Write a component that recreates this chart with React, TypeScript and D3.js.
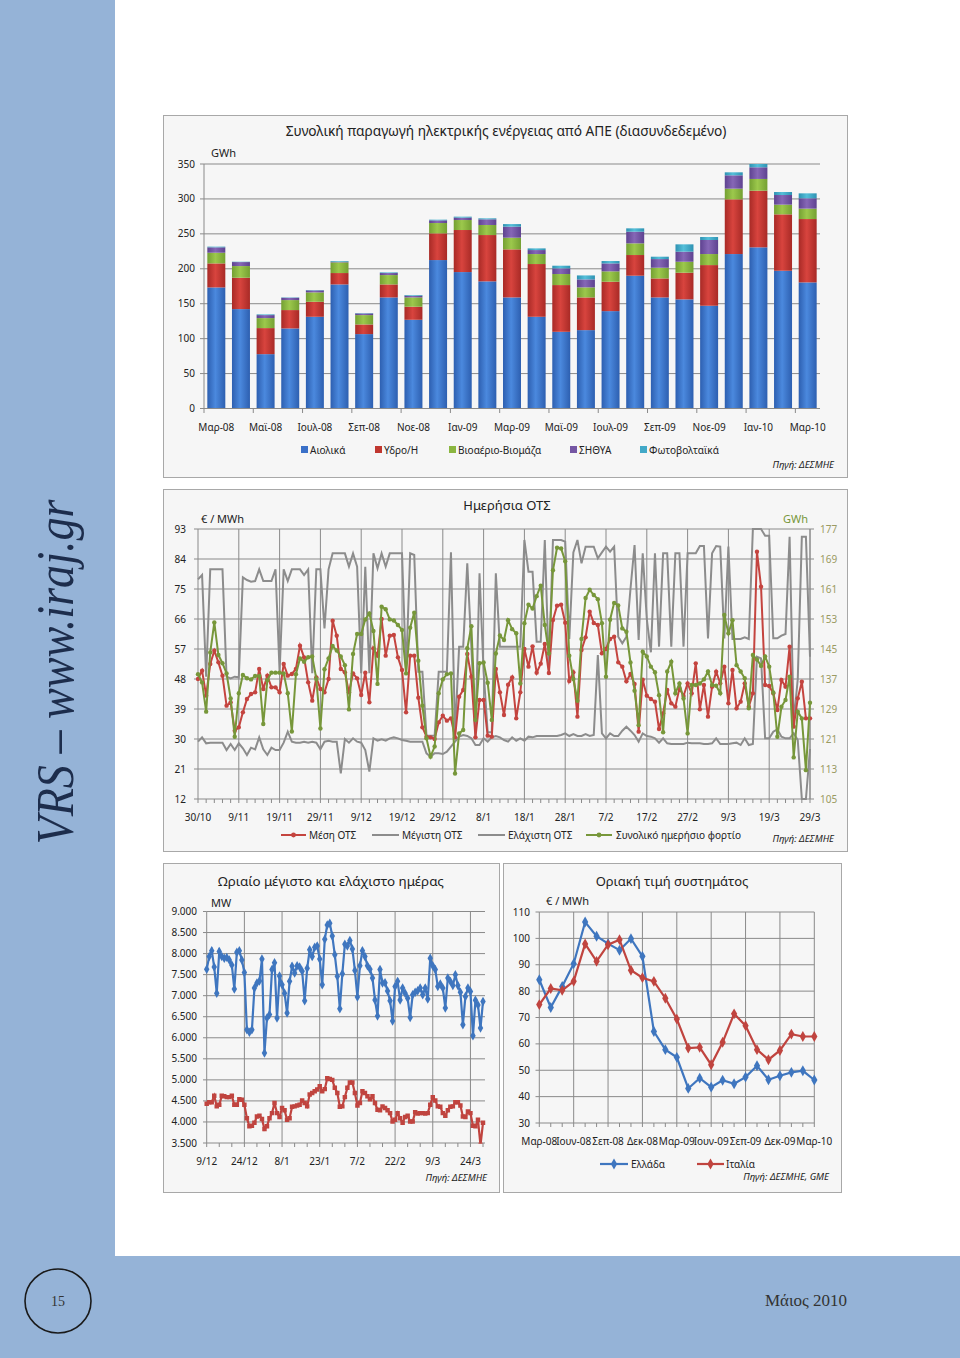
import React from "react";
import * as d3 from "d3";

const FONT = "'Noto Sans', 'DejaVu Sans', sans-serif";

// ---------------- Chart 1: RES production (GWh) ----------------
const monthLabels = ["Μαρ-08","Απρ-08","Μαϊ-08","Ιουν-08","Ιουλ-08","Αυγ-08","Σεπ-08","Οκτ-08","Νοε-08","Δεκ-08","Ιαν-09","Φεβ-09","Μαρ-09","Απρ-09","Μαϊ-09","Ιουν-09","Ιουλ-09","Αυγ-09","Σεπ-09","Οκτ-09","Νοε-09","Δεκ-09","Ιαν-10","Φεβ-10","Μαρ-10"];
const windGWh = [173.3,142.3,77.8,114.6,131.3,177.6,106.5,159,127,212.5,195.3,182,159,131.3,109.8,112.2,139.4,190.1,159,156.2,147.1,221.1,230.7,197.2,180.5];
const hydroGWh = [34.4,44.9,37.3,26.3,21.5,16.3,13.8,18.6,18.7,38.2,60.2,66.3,68.8,75.5,66.9,46.8,42.1,29.6,27.2,38.2,58.2,78.3,81.1,80.7,90.7];
const bioGWh = [15.3,16.7,14.3,14.3,13.4,15.3,13.4,13.4,13.3,14.8,14.3,14.4,16.7,14.3,15.8,14.4,14.8,16.7,15.3,15.7,15.8,15.3,16.8,13.9,14.9];
const chpGWh = [7.7,5.7,4.3,3.3,2.9,0.9,2.4,2.9,2.4,3.8,3.4,8.1,15.8,5.7,8.1,11.4,11.4,16.7,12.4,14.4,20.1,19.1,16.7,13.8,14.8];
const pvGWh = [1,0.5,1,0.5,0.5,1,0.5,0.9,1,1,1.4,1.4,3.7,2.4,3.8,5.7,3.4,4.8,3.4,10.5,4.3,4.3,4.7,4.3,7.1];
const resNames = ["Αιολικά","Υδρο/Η","Βιοαέριο-Βιομάζα","ΣΗΘΥΑ","Φωτοβολταϊκά"];
const resTicks = [0,50,100,150,200,250,300,350];

// ---------------- Chart 2: daily SMP ----------------
const otsDateTicks = ["30/10","9/11","19/11","29/11","9/12","19/12","29/12","8/1","18/1","28/1","7/2","17/2","27/2","9/3","19/3","29/3"];
const otsLeftTicks = [12,21,30,39,48,57,66,75,84,93];
const otsRightTicks = [105,113,121,129,137,145,153,161,169,177];
const otsMean = [48,50.5,43,52.5,56.5,53,49,40,41,32.5,
 33.5,38,42,43.5,44,51,45,49,45.5,45.5,
 44,52.5,49,49.5,51,58,54.5,47,41.5,48.5,
 45,44,48,65.5,61,51,50,44,49.7,48.2,
 43.2,49.9,41,57.2,55,66,55,61,61.2,54.5,
 50.7,38,55,55,42.4,33.5,30.7,30.5,30,35,
 37,35.5,36.2,30.5,42.7,44.7,55.5,48.7,30.5,41.7,
 41.7,31,30.7,51,44,37.2,46.3,48.5,36.2,44,
 57,51.7,57.8,49.9,52.6,58.5,49.8,65.7,70,70.3,
 64.9,47.4,50,36.7,56.7,60.5,68.2,64.8,64.2,55.7,
 57,60,60.7,53,51.7,47.3,49.5,46.5,32.2,47.8,
 43,42,41.2,33,37.7,44.7,40.7,39.7,45.2,42.9,
 46.7,43.7,52.7,38.9,46.2,36.7,45.7,50.2,46.7,51.7,
 40.7,50.7,39.2,41.2,46.7,39.7,43.7,86.2,75.7,46.2,
 45.9,43.7,38.7,47.7,45.7,57.7,33.7,42.2,47.2,36.2,
 36.2];
const otsMax = [77.9,79.2,48.7,80.9,80.9,80.9,80.9,48.7,48.2,48.7,
 48.5,78.5,77.7,77.2,77.4,80.9,77.4,77.4,77.4,80.9,
 50.2,80.9,77.4,80.9,80.9,80.9,79.2,80.9,49.7,80.9,
 80.9,63.2,80.9,85.7,85.7,85.7,85.7,81.7,85.7,81.7,
 49.7,81.7,49.7,85.7,81.2,85.7,81.7,85.7,85.7,85.7,
 85.7,50.2,85.7,85.2,50.2,50.2,31,31,31,50.2,
 50.2,50.2,86,31.7,57.7,57.7,82.7,57.7,31,79.7,
 50.2,32,32,79.7,57.7,57.7,57.7,57.7,57.7,57.7,
 89.7,80.2,80.2,59.2,59.2,89.7,50.7,89.7,89.7,89.7,
 89.2,60,86,89.7,82.7,87.7,87.7,87.7,84.2,86,
 87.7,86.2,87.7,60.7,58.7,60.7,75,88.2,59.7,85.7,
 66,56,85.7,57.7,85.7,85.7,57.7,85.7,85.7,57.7,
 85.7,85.7,85.7,87.9,87.9,60.2,85.7,87.9,87.7,60.2,
 87.7,60,60,60,60.5,60,93,93,93,91,
 91,60.2,60.2,61,61.5,90.7,35,48,90.7,90.7,
 54.7];
const otsMin = [29.2,30.5,28.7,28.9,28.9,28.9,28.9,26.7,28.5,26.7,
 28.7,27.2,25.2,27.4,26.9,30.5,26.9,25.2,27.4,26.7,
 26.7,28.9,32.2,29.2,28.9,28.9,29.2,28.9,29.2,28.9,
 26.9,29.2,29.5,29.2,29.2,19.7,30,28.9,30.2,29.2,
 28.9,26.7,20.2,30.2,29.5,29.9,29.5,30.2,30.5,30.2,
 29.7,29.5,29.2,29.2,29.2,29.2,25.7,24.7,25.7,25.7,
 25.5,26.2,27.7,29.2,30.7,31.2,30.9,30.2,28.2,28.2,
 30.2,29.2,30.5,30.9,30.5,29.7,29.2,30.5,29.5,30.2,
 29.5,30.7,30.5,30.9,30.9,30.9,30.9,30.9,30.9,31.2,
 31.7,30.9,31.5,30.9,30.9,31.5,30.9,31.2,55.2,31.7,
 30.2,31.7,30.9,30.9,32.5,33.7,32.5,31.2,29.2,31.7,
 30.9,30.7,30.2,28.9,30.2,28.7,28.5,28.5,28.5,28.5,
 28.9,28.7,28.7,28.7,28.5,28.5,28.7,30.2,28.5,28.5,
 28.5,28.7,28.9,28.2,30.2,28.2,28.5,54.7,54.2,30.2,
 30.2,32.2,32.9,30.7,30.2,30.2,31.7,29.7,12,12,
 27];
const dailyLoad = [138.3,136.1,128.3,144.1,152.1,143.4,141.2,138.5,131.8,121.6,
 133.2,138.1,137.2,136.9,137.8,137.8,125.0,136.7,138.7,138.7,
 138.7,138.5,133.2,123.0,138.3,142.5,141.6,142.8,143.0,137.0,
 123.8,139.6,142.5,145.8,144.6,143.0,140.7,128.9,143.7,149.0,
 149.0,152.9,154.5,149.8,135.7,156.3,155.6,152.9,152.6,151.4,
 150.1,138.5,150.7,154.7,141.9,129.9,121.2,116.3,119.0,133.2,
 136.9,138.3,138.5,111.8,122.5,123.4,145.2,151.1,126.1,141.2,
 141.4,136.0,126.1,143.8,148.6,147.4,152.7,150.3,149.2,135.8,
 151.9,156.8,155.8,159.1,161.9,151.4,143.8,166.0,172.0,171.8,
 168.4,143.2,137.0,131.2,147.7,158.6,160.8,159.4,158.3,151.9,
 137.6,152.8,157.3,156.6,150.5,149.6,141.4,133.9,124.7,144.3,
 143.0,140.3,138.8,132.7,122.8,139.0,141.6,133.2,135.8,131.8,
 122.5,135.4,135.4,135.8,136.9,139.0,135.4,135.2,133.2,154.1,
 149.2,152.7,140.7,139.0,137.2,129.2,143.4,142.2,140.5,143.0,
 140.3,133.4,121.6,129.6,131.4,137.6,116.1,128.3,126.5,112.7,
 130.7];

// ---------------- Chart 3: hourly max / min load (MW) ----------------
const loadDateTicks = ["9/12","24/12","8/1","23/1","7/2","22/2","9/3","24/3"];
const loadTicks = [3500,4000,4500,5000,5500,6000,6500,7000,7500,8000,8500,9000];
const loadMax = [7630,7930,8070,7680,7060,8050,7930,7890,7910,7850,
 7730,7160,8030,8070,7850,7550,6190,6130,6190,7180,
 7300,7350,7870,5640,6470,6550,7620,7780,6470,7470,
 7260,7060,6590,7340,7700,7540,7710,7680,7580,6880,
 7650,8090,7930,8150,8180,7870,7260,8340,8680,8720,
 8420,7970,7460,6690,7520,8220,8180,8310,8110,7600,
 6970,7710,8070,7930,7710,7630,7420,6900,6520,7620,
 7300,7310,7110,6880,6400,7220,7340,6900,7180,7060,
 6940,6480,7020,7080,7120,7180,7020,7180,6920,7890,
 7710,7620,7220,7280,7180,6710,7420,7340,7240,7500,
 7240,7080,6310,6980,7180,7100,6050,6890,6780,6230,
 6860];
const loadMin = [4430,4470,4470,4620,4370,4410,4620,4610,4590,4590,
 4620,4410,4410,4540,4530,4410,4090,3900,3910,3980,
 4130,4150,4070,3830,3900,4090,4210,4450,4210,4120,
 4330,4280,4050,4090,4360,4370,4390,4410,4510,4450,
 4370,4650,4690,4730,4770,4850,4730,4780,5040,5020,
 5000,4810,4690,4360,4370,4590,4810,4940,4940,4690,
 4390,4450,4730,4690,4610,4540,4610,4450,4290,4280,
 4370,4330,4280,4210,4010,4050,4210,4090,3980,4120,
 4150,4010,4010,4230,4200,4210,4210,4200,4210,4410,
 4590,4510,4370,4360,4210,4150,4280,4360,4370,4470,
 4470,4390,4130,4120,4250,4210,3910,3900,4050,3450,
 3980];

// ---------------- Chart 4: SMP Greece vs Italy ----------------
const priceMonthTicks = ["Μαρ-08","Ιουν-08","Σεπ-08","Δεκ-08","Μαρ-09","Ιουν-09","Σεπ-09","Δεκ-09","Μαρ-10"];
const priceTicks = [30,40,50,60,70,80,90,100,110];
const greecePrice = [84.3,73.8,81.8,90.4,106.2,100.8,98,95.5,99.9,93.2,64.7,57.8,54.9,43.1,47,43.6,46.2,44.9,47.4,51.7,46.4,47.9,49.2,49.8,46.3];
const italyPrice = [74.9,81,80.3,83.7,97.9,91.3,97.6,99.5,87.9,85.1,83.7,77.3,69.4,58.4,58.7,52.1,60.6,71.4,66.9,57.8,54,57.5,63.7,62.8,62.8];

const GRID = "#8a8a8a";
const BOXFILL = "#f6f6f6";
const BOXSTROKE = "#a8a8a8";
const TXT = "#222";

const resColors = [
  { dark: "#2d5fb0", light: "#4b89de", mid: "#3a70c8" },
  { dark: "#a82a26", light: "#d8443e", mid: "#c0372f" },
  { dark: "#74a032", light: "#9cc84c", mid: "#8bb640" },
  { dark: "#5e4290", light: "#8667b6", mid: "#7556a3" },
  { dark: "#2e92b2", light: "#55bfd9", mid: "#42a9c8" },
];

function fmtMW(v: number) {
  const th = Math.floor(v / 1000);
  const r = v % 1000;
  return `${th}.${String(r).padStart(3, "0")}`;
}

function TopChart() {
  const keys = ["wind", "hydro", "bio", "chp", "pv"];
  const rows = monthLabels.map((m, i) => ({
    month: m, wind: windGWh[i], hydro: hydroGWh[i], bio: bioGWh[i], chp: chpGWh[i], pv: pvGWh[i],
  }));
  const series = d3.stack<any>().keys(keys)(rows);
  const x = d3.scaleBand<string>().domain(monthLabels).range([204, 820]).paddingInner(0.27).paddingOuter(0.135);
  const y = d3.scaleLinear().domain([0, 350]).range([408.5, 164]);
  const step = x.step();
  const legendX = [301, 375, 449, 570, 640];
  return (
    <g>
      <rect x={163.5} y={115.5} width={684} height={362} fill={BOXFILL} stroke={BOXSTROKE} />
      <text x={506} y={136} textAnchor="middle" fontSize={13.7} fill={TXT}>
        Συνολική παραγωγή ηλεκτρικής ενέργειας από ΑΠΕ (διασυνδεδεμένο)
      </text>
      <text x={211} y={157} fontSize={11} fill={TXT}>GWh</text>
      {resTicks.map((t) => (
        <g key={t}>
          {t > 0 && <line x1={204} x2={820} y1={y(t)} y2={y(t)} stroke={GRID} strokeWidth={1} />}
          <line x1={200} x2={204} y1={y(t)} y2={y(t)} stroke={GRID} />
          <text x={195} y={y(t)} dy="0.35em" textAnchor="end" fontSize={10} fill={TXT}>{t}</text>
        </g>
      ))}
      {series.map((s, si) => (
        <g key={s.key} fill={`url(#rg${si})`}>
          {s.map((d: any, i: number) => (
            <rect key={i} x={x(monthLabels[i])} width={x.bandwidth()} y={y(d[1])} height={Math.max(0, y(d[0]) - y(d[1]))} />
          ))}
        </g>
      ))}
      <line x1={204} x2={204} y1={164} y2={408.5} stroke={GRID} />
      <line x1={204} x2={820} y1={408.5} y2={408.5} stroke={GRID} />
      {d3.range(0, 26, 2).map((k) => (
        <line key={k} x1={204 + k * step} x2={204 + k * step} y1={408.5} y2={413} stroke={GRID} />
      ))}
      {monthLabels.map((m, i) => i % 2 === 0 && (
        <text key={m} x={(x(m) as number) + x.bandwidth() / 2} y={431} textAnchor="middle" fontSize={10} fill={TXT}>{m}</text>
      ))}
      {resNames.map((n, i) => (
        <g key={n}>
          <rect x={legendX[i]} y={446} width={7} height={7} fill={resColors[i].mid} />
          <text x={legendX[i] + 9} y={453.5} fontSize={10} fill={TXT}>{n}</text>
        </g>
      ))}
      <text x={834} y={467.5} textAnchor="end" fontSize={9.5} fontStyle="italic" fill={TXT}>Πηγή: ΔΕΣΜΗΕ</text>
    </g>
  );
}

function OtsChart() {
  const x = d3.scaleLinear().domain([0, 150]).range([198, 810]);
  const yL = d3.scaleLinear().domain([12, 93]).range([799, 529]);
  const yR = d3.scaleLinear().domain([105, 177]).range([799, 529]);
  const lineL = d3.line<number>().x((_, i) => x(i)).y((d) => yL(d));
  const lineR = d3.line<number>().x((_, i) => x(i)).y((d) => yR(d));
  const RED = "#c4443f";
  const GREEN = "#77973a";
  const GRAY = "#8c8c8c";
  return (
    <g>
      <rect x={163.5} y={489.5} width={684} height={362} fill={BOXFILL} stroke={BOXSTROKE} />
      <text x={507} y={510} textAnchor="middle" fontSize={13} fill={TXT}>Ημερήσια ΟΤΣ</text>
      <text x={201} y={523} fontSize={11} fill={TXT}>€ / MWh</text>
      <text x={808} y={523} textAnchor="end" fontSize={11} fill={GREEN}>GWh</text>
      {otsLeftTicks.map((t, i) => (
        <g key={t}>
          <line x1={198} x2={810} y1={yL(t)} y2={yL(t)} stroke={GRID} />
          <line x1={194} x2={198} y1={yL(t)} y2={yL(t)} stroke={GRID} />
          <text x={186} y={yL(t)} dy="0.35em" textAnchor="end" fontSize={10} fill={TXT}>{t}</text>
          <line x1={810} x2={814} y1={yR(otsRightTicks[i])} y2={yR(otsRightTicks[i])} stroke={GRID} />
          <text x={820} y={yR(otsRightTicks[i])} dy="0.35em" fontSize={10} fill="#9a9a62">{otsRightTicks[i]}</text>
        </g>
      ))}
      {otsDateTicks.map((t, i) => (
        <g key={t}>
          <line x1={x(i * 10)} x2={x(i * 10)} y1={529} y2={799} stroke={GRID} />
          <text x={x(i * 10)} y={821} textAnchor="middle" fontSize={10} fill={TXT}>{t}</text>
        </g>
      ))}
      {d3.range(0, 151, 2).map((d) => (
        <line key={d} x1={x(d)} x2={x(d)} y1={799} y2={803} stroke={GRID} />
      ))}
      <line x1={810} x2={810} y1={529} y2={799} stroke={GRID} />
      <path d={lineL(otsMax) as string} fill="none" stroke={GRAY} strokeWidth={2} />
      <path d={lineL(otsMin) as string} fill="none" stroke={GRAY} strokeWidth={2} />
      <path d={lineL(otsMean) as string} fill="none" stroke={RED} strokeWidth={2} />
      {otsMean.map((v, i) => <circle key={i} cx={x(i)} cy={yL(v)} r={2.2} fill={RED} />)}
      <path d={lineR(dailyLoad) as string} fill="none" stroke={GREEN} strokeWidth={2} />
      {dailyLoad.map((v, i) => <circle key={i} cx={x(i)} cy={yR(v)} r={2.2} fill={GREEN} />)}
      <g fontSize={10} fill={TXT}>
        <line x1={281} x2={306} y1={835} y2={835} stroke={RED} strokeWidth={2} />
        <circle cx={293.5} cy={835} r={2.4} fill={RED} />
        <text x={309} y={839}>Μέση ΟΤΣ</text>
        <line x1={372} x2={399} y1={835} y2={835} stroke={GRAY} strokeWidth={2} />
        <text x={402} y={839}>Μέγιστη ΟΤΣ</text>
        <line x1={478} x2={505} y1={835} y2={835} stroke={GRAY} strokeWidth={2} />
        <text x={508} y={839}>Ελάχιστη ΟΤΣ</text>
        <line x1={586} x2={612} y1={835} y2={835} stroke={GREEN} strokeWidth={2} />
        <circle cx={599} cy={835} r={2.4} fill={GREEN} />
        <text x={616} y={839}>Συνολικό ημερήσιο φορτίο</text>
      </g>
      <text x={834} y={842} textAnchor="end" fontSize={9.5} fontStyle="italic" fill={TXT}>Πηγή: ΔΕΣΜΗΕ</text>
    </g>
  );
}

function LoadChart() {
  const x = d3.scaleLinear().domain([0, 110]).range([206.7, 483]);
  const y = d3.scaleLinear().domain([3500, 9000]).range([1143, 911.5]);
  const line = d3.line<number>().x((_, i) => x(i)).y((d) => y(d));
  const BLUE = "#3f76bf";
  const RED = "#c0443f";
  const diamond = d3.symbol().type(d3.symbolDiamond).size(26)() as string;
  const square = d3.symbol().type(d3.symbolSquare).size(20)() as string;
  return (
    <g>
      <rect x={163.5} y={863.5} width={336} height={329} fill={BOXFILL} stroke={BOXSTROKE} />
      <text x={331} y={886} textAnchor="middle" fontSize={13.4} fill={TXT}>Ωριαίο μέγιστο και ελάχιστο ημέρας</text>
      <text x={211} y={907} fontSize={11} fill={TXT}>MW</text>
      <defs>
        <clipPath id="clipLoad"><rect x={200} y={905} width={290} height={238.5} /></clipPath>
      </defs>
      {loadTicks.map((t) => (
        <g key={t}>
          <line x1={206.7} x2={485} y1={y(t)} y2={y(t)} stroke={GRID} />
          <line x1={203} x2={206.7} y1={y(t)} y2={y(t)} stroke={GRID} />
          <text x={197} y={y(t)} dy="0.35em" textAnchor="end" fontSize={10} fill={TXT}>{fmtMW(t)}</text>
        </g>
      ))}
      {loadDateTicks.map((t, i) => (
        <g key={t}>
          <line x1={x(i * 15)} x2={x(i * 15)} y1={911.5} y2={1143} stroke={GRID} />
          <text x={x(i * 15)} y={1165} textAnchor="middle" fontSize={10} fill={TXT}>{t}</text>
        </g>
      ))}
      {d3.range(0, 111, 5).map((d) => (
        <line key={d} x1={x(d)} x2={x(d)} y1={1143} y2={1147} stroke={GRID} />
      ))}
      <g clipPath="url(#clipLoad)">
        <path d={line(loadMax) as string} fill="none" stroke={BLUE} strokeWidth={2.2} />
        {loadMax.map((v, i) => <path key={i} d={diamond} transform={`translate(${x(i)},${y(v)})`} fill={BLUE} />)}
        <path d={line(loadMin) as string} fill="none" stroke={RED} strokeWidth={2.2} />
        {loadMin.map((v, i) => <path key={i} d={square} transform={`translate(${x(i)},${y(v)})`} fill={RED} />)}
      </g>
      <text x={487} y={1181} textAnchor="end" fontSize={9.5} fontStyle="italic" fill={TXT}>Πηγή: ΔΕΣΜΗΕ</text>
    </g>
  );
}

function PriceChart() {
  const x = d3.scaleLinear().domain([0, 24]).range([539.3, 814.3]);
  const y = d3.scaleLinear().domain([30, 110]).range([1123, 912]);
  const line = d3.line<number>().x((_, i) => x(i)).y((d) => y(d));
  const BLUE = "#3f76bf";
  const RED = "#c0443f";
  const diamond = d3.symbol().type(d3.symbolDiamond).size(34)() as string;
  return (
    <g>
      <rect x={503.5} y={863.5} width={338} height={329} fill={BOXFILL} stroke={BOXSTROKE} />
      <text x={672} y={886} textAnchor="middle" fontSize={13} fill={TXT}>Οριακή τιμή συστημάτος</text>
      <text x={546} y={905} fontSize={11} fill={TXT}>€ / MWh</text>
      {priceTicks.map((t) => (
        <g key={t}>
          <line x1={539.3} x2={814.3} y1={y(t)} y2={y(t)} stroke={GRID} />
          <line x1={535.5} x2={539.3} y1={y(t)} y2={y(t)} stroke={GRID} />
          <text x={530} y={y(t)} dy="0.35em" textAnchor="end" fontSize={10} fill={TXT}>{t}</text>
        </g>
      ))}
      {priceMonthTicks.map((t, i) => (
        <g key={t}>
          <line x1={x(i * 3)} x2={x(i * 3)} y1={912} y2={1123} stroke={GRID} />
          <text x={x(i * 3)} y={1145} textAnchor="middle" fontSize={10} fill={TXT}>{t}</text>
        </g>
      ))}
      {d3.range(0, 25).map((d) => (
        <line key={d} x1={x(d)} x2={x(d)} y1={1123} y2={1127} stroke={GRID} />
      ))}
      <path d={line(greecePrice) as string} fill="none" stroke={BLUE} strokeWidth={2.2} />
      {greecePrice.map((v, i) => <path key={i} d={diamond} transform={`translate(${x(i)},${y(v)})`} fill={BLUE} />)}
      <path d={line(italyPrice) as string} fill="none" stroke={RED} strokeWidth={2.2} />
      {italyPrice.map((v, i) => <path key={i} d={diamond} transform={`translate(${x(i)},${y(v)})`} fill={RED} />)}
      <g fontSize={10} fill={TXT}>
        <line x1={600} x2={628} y1={1164} y2={1164} stroke={BLUE} strokeWidth={2.2} />
        <path d={diamond} transform="translate(614,1164)" fill={BLUE} />
        <text x={631} y={1168}>Ελλάδα</text>
        <line x1={697} x2={724} y1={1164} y2={1164} stroke={RED} strokeWidth={2.2} />
        <path d={diamond} transform="translate(710.5,1164)" fill={RED} />
        <text x={726} y={1168}>Ιταλία</text>
      </g>
      <text x={829} y={1180} textAnchor="end" fontSize={9.5} fontStyle="italic" fill={TXT}>Πηγή: ΔΕΣΜΗΕ, GME</text>
    </g>
  );
}

export default function App() {
  return (
    <svg width={960} height={1358} style={{ position: "absolute", left: 0, top: 0, background: "#fff" }} fontFamily={FONT}>
      <defs>
        {resColors.map((c, i) => (
          <linearGradient key={i} id={`rg${i}`} x1="0" x2="1" y1="0" y2="0">
            <stop offset="0" stopColor={c.dark} />
            <stop offset="0.45" stopColor={c.light} />
            <stop offset="1" stopColor={c.dark} />
          </linearGradient>
        ))}
      </defs>
      <rect x={0} y={0} width={960} height={1358} fill="#fff" />
      <rect x={0} y={0} width={115} height={1358} fill="#95b3d7" />
      <rect x={0} y={1256} width={960} height={102} fill="#95b3d7" />
      <g transform="translate(73,672) rotate(-90)">
        <text x={0} y={0} textAnchor="middle" fontFamily="'Liberation Serif', 'DejaVu Serif', serif" fontStyle="italic" fontSize={52} fill="#1d2d4c" textLength={345} lengthAdjust="spacingAndGlyphs">
          VRS – www.iraj.gr
        </text>
      </g>
      <ellipse cx={58} cy={1301} rx={33} ry={32} fill="none" stroke="#1a1a1a" strokeWidth={1.6} />
      <text x={58} y={1306} textAnchor="middle" fontFamily="'Liberation Serif', serif" fontSize={14} fill="#333">15</text>
      <text x={765} y={1306} fontFamily="'Liberation Serif', serif" fontSize={17} fill="#333">Μάιος 2010</text>
      <TopChart />
      <OtsChart />
      <LoadChart />
      <PriceChart />
    </svg>
  );
}
